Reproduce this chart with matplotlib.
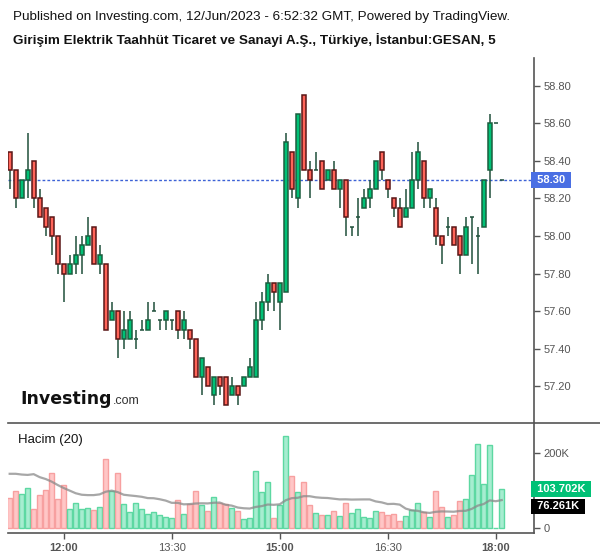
import numpy as np
import pandas as pd
import matplotlib
matplotlib.use('Agg')
import matplotlib.pyplot as plt
from matplotlib.lines import Line2D
import matplotlib.transforms as mtransforms

plt.rcParams['font.family'] = ['Liberation Sans', 'DejaVu Sans']

# 5 minute candles, GESAN, 12 Jun 2023
opens = [58.45, 58.35, 58.20, 58.30, 58.40, 58.20, 58.15, 58.10, 58.00, 57.85,
         57.80, 57.85, 57.90, 57.95, 58.05, 57.85, 57.85, 57.55, 57.60, 57.45,
         57.45, 57.45, 57.50, 57.50, 57.60, 57.55, 57.55, 57.55, 57.60, 57.50,
         57.50, 57.45, 57.25, 57.30, 57.15, 57.25, 57.25, 57.15, 57.20, 57.20,
         57.25, 57.25, 57.55, 57.65, 57.75, 57.65, 57.70, 58.45, 58.20, 58.75,
         58.35, 58.35, 58.40, 58.30, 58.35, 58.25, 58.30, 58.05, 58.10, 58.15,
         58.20, 58.25, 58.45, 58.30, 58.20, 58.15, 58.10, 58.15, 58.30, 58.40,
         58.20, 58.15, 58.00, 58.05, 58.05, 58.00, 57.90, 58.10, 58.00, 58.05,
         58.35, 58.60, 58.30]
highs = [58.45, 58.35, 58.30, 58.55, 58.40, 58.25, 58.15, 58.10, 58.00, 57.85,
         57.90, 58.00, 58.00, 58.10, 58.05, 57.95, 57.85, 57.65, 57.60, 57.60,
         57.60, 57.50, 57.55, 57.65, 57.65, 57.55, 57.60, 57.55, 57.60, 57.60,
         57.50, 57.45, 57.35, 57.30, 57.25, 57.25, 57.25, 57.25, 57.20, 57.25,
         57.35, 57.65, 57.70, 57.80, 57.75, 57.75, 58.55, 58.45, 58.65, 58.75,
         58.40, 58.45, 58.40, 58.35, 58.40, 58.30, 58.30, 58.05, 58.20, 58.25,
         58.30, 58.40, 58.45, 58.30, 58.20, 58.20, 58.25, 58.45, 58.50, 58.40,
         58.25, 58.20, 58.00, 58.10, 58.05, 58.00, 58.10, 58.10, 58.05, 58.30,
         58.65, 58.60, 58.30]
lows = [58.25, 58.15, 58.20, 58.20, 58.15, 58.10, 58.00, 57.90, 57.80, 57.65,
        57.80, 57.80, 57.80, 57.95, 57.85, 57.80, 57.50, 57.55, 57.35, 57.40,
        57.45, 57.40, 57.50, 57.50, 57.60, 57.50, 57.50, 57.50, 57.45, 57.45,
        57.40, 57.25, 57.15, 57.20, 57.10, 57.15, 57.10, 57.15, 57.10, 57.20,
        57.25, 57.25, 57.50, 57.60, 57.60, 57.50, 57.70, 58.20, 58.15, 58.35,
        58.20, 58.35, 58.25, 58.30, 58.25, 58.15, 58.00, 58.00, 58.00, 58.15,
        58.15, 58.25, 58.30, 58.20, 58.10, 58.05, 58.10, 58.15, 58.25, 58.15,
        58.15, 57.95, 57.85, 58.00, 57.95, 57.80, 57.90, 57.85, 57.80, 58.05,
        58.20, 58.60, 58.30]
closes = [58.35, 58.20, 58.30, 58.35, 58.20, 58.10, 58.05, 58.00, 57.85, 57.80,
          57.85, 57.90, 57.95, 58.00, 57.85, 57.90, 57.50, 57.60, 57.45, 57.50,
          57.55, 57.45, 57.50, 57.55, 57.60, 57.55, 57.60, 57.55, 57.50, 57.55,
          57.45, 57.25, 57.35, 57.20, 57.25, 57.20, 57.10, 57.20, 57.15, 57.25,
          57.30, 57.55, 57.65, 57.75, 57.70, 57.75, 58.50, 58.25, 58.65, 58.35,
          58.30, 58.35, 58.25, 58.35, 58.25, 58.30, 58.10, 58.05, 58.10, 58.20,
          58.25, 58.40, 58.35, 58.25, 58.15, 58.05, 58.15, 58.30, 58.45, 58.20,
          58.25, 58.00, 57.95, 58.05, 57.95, 57.90, 58.05, 58.10, 58.00, 58.30,
          58.60, 58.60, 58.30]
# volume in thousands
volumes = [80, 100, 91, 107, 51, 88, 101, 148, 77, 116,
           51, 67, 50, 53, 49, 56, 184, 98, 148, 65,
           43, 67, 51, 38, 43, 34, 29, 28, 76, 37,
           64, 98, 62, 46, 84, 68, 64, 54, 46, 25,
           27, 153, 95, 124, 27, 61, 246, 139, 97, 124,
           61, 40, 35, 35, 46, 32, 68, 40, 51, 29,
           27, 46, 43, 36, 37, 20, 32, 49, 68, 44,
           29, 100, 56, 29, 35, 73, 77, 142, 224, 117,
           222, 0, 103.702]
# volume MA(20) for the first bars (earlier data not shown)
ma_head = [145, 145, 143, 142, 144, 136, 131, 124, 115, 107,
           100, 93, 89, 88, 88, 90, 97, 100, 96]
tick_labels = ['12:00', '13:30', '15:00', '16:30', '18:00']
last_price = 58.30
last_ma = 76.261

times = pd.date_range('2023-06-12 11:15', periods=len(opens), freq='5min')
x = np.arange(len(opens))
o = np.array(opens); h = np.array(highs); l = np.array(lows); c = np.array(closes)
up = c >= o

vol = pd.Series(volumes, dtype=float)
ma = vol.rolling(20).mean()
ma.iloc[:len(ma_head)] = ma_head

W, H = 600, 558
fig = plt.figure(figsize=(6, 5.58), dpi=100)
ax = fig.add_axes([8/W, 1-423/H, 526/W, 365/H])
axv = fig.add_axes([8/W, 1-533/H, 526/W, 110/H])

wick = '#1f4f3b'
g_fill, g_edge = '#00c176', '#1b5e3f'
r_fill, r_edge = '#ff6459', '#5a1616'

ax.vlines(x, l, h, color=wick, lw=1.1, zorder=2)
body = np.abs(c - o)
doji = body < 1e-9
ax.bar(x[~doji], body[~doji], bottom=np.minimum(o, c)[~doji], width=0.68,
       color=np.where(up[~doji], g_fill, r_fill),
       edgecolor=np.where(up[~doji], g_edge, r_edge), linewidth=1.1, zorder=3)
ax.hlines(o[doji], x[doji]-0.36, x[doji]+0.36, color=wick, lw=1.1, zorder=3)

ax.axhline(last_price, color='#3d62d6', ls=(0, (2, 1.5)), lw=1, zorder=1)

ax.set_xlim(-0.28, 87.38)
ax.set_ylim(57.003, 58.949)
ax.set_xticks([])
ax.yaxis.tick_right()
ax.set_yticks(np.arange(57.2, 58.81, 0.2))
ax.set_yticklabels(['%.2f' % v for v in np.arange(57.2, 58.81, 0.2)])
ax.tick_params(axis='y', colors='#555555', labelsize=8, length=4, width=1, pad=3)
for s in ['left', 'top', 'bottom']:
    ax.spines[s].set_visible(False)
ax.spines['right'].set_color('#555555')
ax.spines['right'].set_linewidth(1.2)

trans = mtransforms.blended_transform_factory(ax.transAxes, ax.transData)
ax.text(1.0, last_price, ' %.2f ' % last_price, transform=trans, ha='left', va='center',
        color='white', fontsize=8, fontweight='bold', zorder=5, clip_on=False,
        bbox=dict(boxstyle='square,pad=0.25', fc='#4a6fe3', ec='none'))

# volume pane
axv.bar(x, volumes, width=0.92, color=np.where(up, '#a6edd0', '#ffc6c6'),
        edgecolor=np.where(up, '#5dd8a2', '#f7a0a0'), linewidth=1, zorder=2)
axv.plot(x, ma, color='#8a8a8a', lw=1.6, alpha=0.75, zorder=3)
axv.set_xlim(-0.28, 87.38)
axv.set_ylim(-13.3, 280.8)
axv.yaxis.tick_right()
axv.set_yticks([0, 200])
axv.set_yticklabels(['0', '200K'])
tick_pos = [i for i, t in enumerate(times) if t.strftime('%H:%M') in tick_labels]
axv.set_xticks(tick_pos)
axv.set_xticklabels([times[i].strftime('%H:%M') for i in tick_pos])
for lbl in axv.get_xticklabels():
    if lbl.get_text().endswith(':00'):
        lbl.set_fontweight('bold')
axv.tick_params(axis='both', colors='#555555', labelsize=8, length=4, width=1, pad=3)
for s in ['left', 'top']:
    axv.spines[s].set_visible(False)
for s in ['right', 'bottom']:
    axv.spines[s].set_color('#555555')
    axv.spines[s].set_linewidth(1.2)

transv = mtransforms.blended_transform_factory(axv.transAxes, axv.transData)
axv.text(1.0, volumes[-1], ' %.3fK ' % volumes[-1], transform=transv, ha='left', va='center',
         color='white', fontsize=8, fontweight='bold', zorder=5, clip_on=False,
         bbox=dict(boxstyle='square,pad=0.25', fc='#00c176', ec='none'))
axv.annotate(' %.3fK ' % last_ma, xy=(1.0, last_ma), xycoords=transv,
             xytext=(0, -5), textcoords='offset points', ha='left', va='center',
             color='white', fontsize=8, fontweight='bold', annotation_clip=False,
             bbox=dict(boxstyle='square,pad=0.25', fc='black', ec='none'))
axv.text(10/526, 0.845, 'Hacim (20)', transform=axv.transAxes, fontsize=9.5,
         color='#131313', va='center', ha='left')

# pane separator
fig.add_artist(Line2D([8/W, 1.0], [1-423/H, 1-423/H], color='#555555', lw=1.2))

# header
fig.text(13/W, 1-17/H, 'Published on Investing.com, 12/Jun/2023 - 6:52:32 GMT, Powered by TradingView.',
         fontsize=9.7, color='#131313', va='center', ha='left')
fig.text(13/W, 1-40/H, 'Girişim Elektrik Taahhüt Ticaret ve Sanayi A.Ş., Türkiye, İstanbul:GESAN, 5',
         fontsize=9.7, fontweight='bold', color='#131313', va='center', ha='left')

# logo
fig.text(20/W, 1-404/H, 'Investing', fontsize=12.5, fontweight='bold', family='DejaVu Sans',
         color='#111111', va='baseline', ha='left')
fig.text(113/W, 1-404/H, '.com', fontsize=9, color='#333333', va='baseline', ha='left')

fig.savefig('out.png', dpi=100)
